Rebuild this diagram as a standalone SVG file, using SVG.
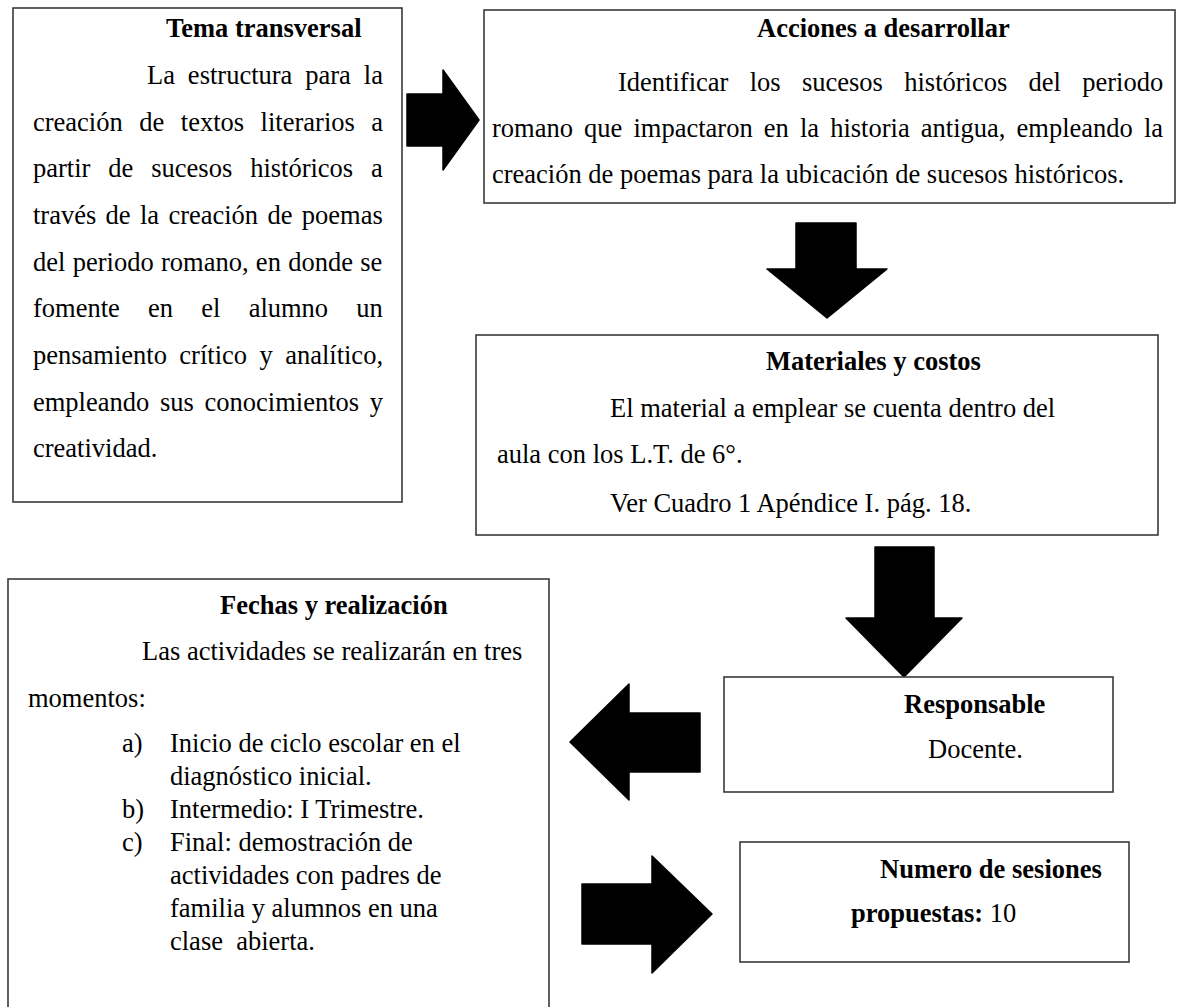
<svg xmlns="http://www.w3.org/2000/svg" width="1177" height="1007" viewBox="0 0 1177 1007">
<style>
.box{fill:#fff;stroke:#3a3a3a;stroke-width:1.6}
text{font-family:"Liberation Serif","Times New Roman",serif;font-size:26.5px;fill:#000}
.b{font-weight:bold}
.arrow{fill:#000;stroke:#000;stroke-width:1.5;stroke-linejoin:round}
</style>
<rect width="1177" height="1007" fill="#fff"/>
<g id="connectors">
<polygon class="arrow" points="407,94 443,94 443,70 479,120 443,170 443,146 407,146"/>
<polygon class="arrow" points="796,223 856,223 856,269 887,269 827,318 767,269 796,269"/>
<polygon class="arrow" points="875,547 934,547 934,618 962,618 904,677 846,618 875,618"/>
<polygon class="arrow" points="700,713 700,772 629,772 629,800 570,742 629,684 629,713"/>
<polygon class="arrow" points="582,884 652,884 652,856 712,914 652,973 652,944 582,944"/>
</g>
<g id="tema">
<rect class="box" x="13" y="8" width="389" height="494"/>
<text class="b" x="166" y="37">Tema transversal</text>
<text x="147" y="84" word-spacing="6.3">La estructura para la</text>
<text x="33" y="131" word-spacing="9.9">creación de textos literarios a</text>
<text x="33" y="177" word-spacing="11.3">partir de sucesos históricos a</text>
<text x="33" y="224" word-spacing="2.7">través de la creación de poemas</text>
<text x="33" y="271" word-spacing="0.7">del periodo romano, en donde se</text>
<text x="33" y="317" word-spacing="21.6">fomente en el alumno un</text>
<text x="33" y="364" word-spacing="5.8">pensamiento crítico y analítico,</text>
<text x="33" y="411" word-spacing="4.1">empleando sus conocimientos y</text>
<text x="33" y="457">creatividad.</text>
</g>
<g id="acciones">
<rect class="box" x="484" y="10" width="691" height="193"/>
<text class="b" x="757" y="37">Acciones a desarrollar</text>
<text x="618" y="91" word-spacing="14.7">Identificar los sucesos históricos del periodo</text>
<text x="492" y="137" word-spacing="4.5">romano que impactaron en la historia antigua, empleando la</text>
<text x="492" y="183">creación de poemas para la ubicación de sucesos históricos.</text>
</g>
<g id="materiales">
<rect class="box" x="476" y="335" width="682" height="200"/>
<text class="b" x="766" y="370">Materiales y costos</text>
<text x="610" y="417">El material a emplear se cuenta dentro del</text>
<text x="497" y="463">aula con los L.T. de 6°.</text>
<text x="610" y="512">Ver Cuadro 1 Apéndice I. pág. 18.</text>
</g>
<g id="responsable">
<rect class="box" x="724" y="677" width="389" height="115"/>
<text class="b" x="904" y="713">Responsable</text>
<text x="928" y="758">Docente.</text>
</g>
<g id="fechas">
<rect class="box" x="8" y="579" width="541" height="440"/>
<text class="b" x="220" y="614">Fechas y realización</text>
<text x="142" y="660">Las actividades se realizarán en tres</text>
<text x="28" y="707">momentos:</text>
<text x="122" y="752">a)</text>
<text x="170" y="752">Inicio de ciclo escolar en el</text>
<text x="170" y="785">diagnóstico inicial.</text>
<text x="122" y="818">b)</text>
<text x="170" y="818">Intermedio: I Trimestre.</text>
<text x="122" y="851">c)</text>
<text x="170" y="851">Final: demostración de</text>
<text x="170" y="884">actividades con padres de</text>
<text x="170" y="917">familia y alumnos en una</text>
<text x="170" y="950" xml:space="preserve">clase  abierta.</text>
</g>
<g id="sesiones">
<rect class="box" x="740" y="842" width="389" height="120"/>
<text class="b" x="880" y="878">Numero de sesiones</text>
<text x="851" y="922"><tspan class="b">propuestas:</tspan> 10</text>
</g>
</svg>
